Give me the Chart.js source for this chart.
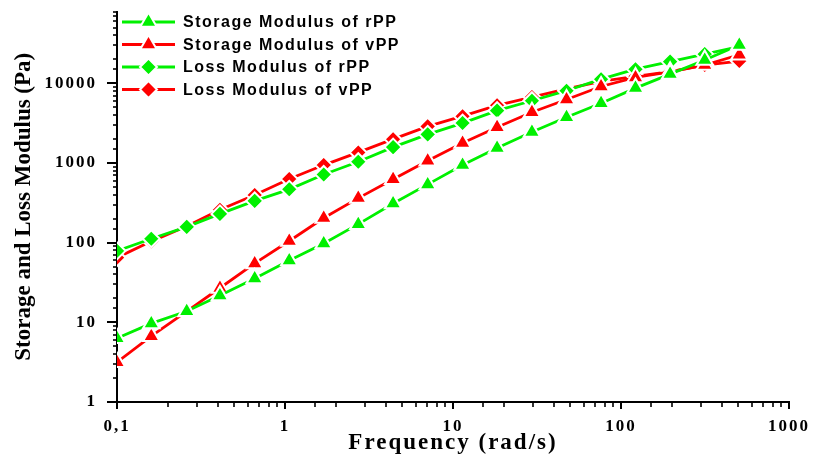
<!DOCTYPE html>
<html>
<head>
<meta charset="utf-8">
<script src="https://cdn.jsdelivr.net/npm/chart.js@4/dist/chart.umd.min.js"></script>
<style>
html,body{margin:0;padding:0;background:#fff;}
#wrap{width:813px;height:456px;position:relative;}
</style>
</head>
<body>
<div id="wrap"><canvas id="c" width="813" height="456"></canvas></div>
<script>
// ---- data ----
const frequency = [0.1, 0.16, 0.26, 0.41, 0.66, 1.06, 1.7, 2.73, 4.4, 7.07, 11.4, 18.3, 29.5, 47.4, 76.1, 122, 196, 315, 506];
const storageRPP = [6.3, 9.7, 13.8, 21.8, 35.5, 59.6, 98, 171, 310, 540, 944, 1550, 2460, 3760, 5650, 8730, 13100, 19700, 30300];
const storageVPP = [3.16, 6.7, 13.7, 27, 55, 105, 204, 363, 628, 1070, 1790, 2820, 4340, 6280, 9150, 11900, 14000, 17000, 22900];
const lossRPP = [79, 112, 158, 230, 335, 468, 720, 1040, 1585, 2290, 3180, 4550, 6060, 8100, 11300, 15100, 18800, 23300, 28900];
const lossVPP = [65, 104, 161, 259, 398, 630, 944, 1360, 1995, 2890, 3880, 5310, 6740, 8540, 10600, 12280, 14100, 17000, 19100];
const seriesLabels = ['Storage Modulus of rPP', 'Storage Modulus of vPP', 'Loss Modulus of rPP', 'Loss Modulus of vPP'];
const xTickValues = [0.1, 1, 10, 100, 1000];
const xTickLabels = ['0,1', '1', '10', '100', '1000'];
const yTickValues = [1, 10, 100, 1000, 10000];
const yTickLabels = ['1', '10', '100', '1000', '10000'];
const xTitle = 'Frequency (rad/s)';
const yTitle = 'Storage and Loss Modulus (Pa)';

const GREEN = '#00f000';
const RED = '#ff0000';

function pts(ys){ return frequency.map((f,i)=>({x:f, y:ys[i]})); }
function isMajor(v){ const l = Math.log10(v); return Math.abs(l - Math.round(l)) < 1e-6; }
function labelFor(v, vals, labels){
  for (let i=0;i<vals.length;i++){ if (Math.abs(v/vals[i]-1) < 1e-6) return labels[i]; }
  return '';
}

const spacing = {
  id: 'spacing',
  beforeDraw(chart){ chart.ctx.letterSpacing = '2px'; },
  afterUpdate(chart){
    const s = chart.scales.y;
    if (s && !s.__wrapped){
      const orig = s.drawTitle;
      s.drawTitle = function(){
        const c = this.ctx; const prev = c.letterSpacing;
        c.letterSpacing = '0px';
        orig.apply(this, arguments);
        c.letterSpacing = prev;
      };
      s.__wrapped = true;
    }
  }
};

const tickMarks = {
  id: 'tickMarks',
  afterDraw(chart){
    const ctx = chart.ctx; const xs = chart.scales.x, ys = chart.scales.y;
    ctx.save();
    ctx.strokeStyle = '#000';
    xs.ticks.forEach(t => {
      const major = isMajor(t.value);
      const px = Math.round(xs.getPixelForValue(t.value));
      ctx.lineWidth = major ? 2 : 1.6;
      ctx.beginPath(); ctx.moveTo(px, xs.top); ctx.lineTo(px, xs.top + (major ? 7 : 5)); ctx.stroke();
    });
    ys.ticks.forEach(t => {
      const major = isMajor(t.value);
      const py = Math.round(ys.getPixelForValue(t.value));
      ctx.lineWidth = major ? 2 : 1.6;
      ctx.beginPath(); ctx.moveTo(ys.right, py); ctx.lineTo(ys.right - (major ? 10 : 4), py); ctx.stroke();
    });
    ctx.restore();
  }
};

const insideLegend = {
  id: 'insideLegend',
  afterDraw(chart){
    const ctx = chart.ctx;
    const left = 122, lineLen = 53, textX = 183, top = 22, gap = 22.5;
    chart.data.datasets.forEach((ds, i) => {
      const cy = top + i*gap;
      ctx.save();
      ctx.strokeStyle = ds.borderColor; ctx.lineWidth = ds.borderWidth;
      ctx.beginPath(); ctx.moveTo(left, cy); ctx.lineTo(left + lineLen, cy); ctx.stroke();
      ctx.fillStyle = ds.backgroundColor; ctx.strokeStyle = '#fff';
      ctx.lineWidth = ds.pointBorderWidth;
      Chart.helpers.drawPoint(ctx, {pointStyle: ds.pointStyle, radius: ds.pointRadius, borderWidth: ds.pointBorderWidth, rotation: 0}, left + lineLen/2, cy);
      ctx.letterSpacing = '1.5px';
      ctx.fillStyle = '#000';
      ctx.font = 'bold 16px "Liberation Sans", Arial, sans-serif';
      ctx.textBaseline = 'middle'; ctx.textAlign = 'left';
      ctx.fillText(ds.label, textX, cy + 1);
      ctx.restore();
    });
  }
};

function ds(label, data, color, style, r){
  return {
    label, data: pts(data), borderColor: color, backgroundColor: color,
    borderWidth: 2.8, pointStyle: style, pointRadius: r, pointHoverRadius: r,
    pointBackgroundColor: color, pointBorderColor: '#fff', pointBorderWidth: 2,
    showLine: true, tension: 0, fill: false
  };
}

new Chart(document.getElementById('c'), {
  type: 'scatter',
  data: {
    datasets: [
      ds(seriesLabels[0], storageRPP, GREEN, 'triangle', 9.5),
      ds(seriesLabels[1], storageVPP, RED, 'triangle', 9.5),
      ds(seriesLabels[2], lossRPP, GREEN, 'rectRot', 8.5),
      ds(seriesLabels[3], lossVPP, RED, 'rectRot', 8.5)
    ]
  },
  options: {
    responsive: false,
    animation: false,
    devicePixelRatio: 1,
    layout: { padding: { left: 0, top: 10, right: 24, bottom: 0 } },
    plugins: { legend: { display: false }, tooltip: { enabled: false } },
    scales: {
      x: {
        type: 'logarithmic', min: 0.1, max: 1000,
        afterFit: s => { s.height = 54; s.paddingLeft = 0; s.paddingRight = 0; },
        grid: { display: false, drawTicks: false },
        border: { display: true, color: '#000', width: 2 },
        ticks: {
          autoSkip: false, maxRotation: 0, padding: 14, color: '#000',
          font: { family: '"Liberation Serif", "Times New Roman", serif', size: 17, weight: 'bold' },
          callback: v => labelFor(v, xTickValues, xTickLabels)
        },
        title: {
          display: true, text: xTitle, color: '#000',
          font: { family: '"Liberation Serif", "Times New Roman", serif', size: 23, weight: 'bold', lineHeight: 1 },
          padding: { top: 0, bottom: 1 }
        }
      },
      y: {
        type: 'logarithmic', min: 1, max: 80000,
        afterFit: s => { s.width = 117; s.paddingTop = 0; s.paddingBottom = 0; },
        grid: { display: false, drawTicks: false },
        border: { display: true, color: '#000', width: 2 },
        ticks: {
          autoSkip: false, padding: 20, color: '#000',
          font: { family: '"Liberation Serif", "Times New Roman", serif', size: 17, weight: 'bold' },
          callback: v => labelFor(v, yTickValues, yTickLabels)
        },
        title: {
          display: true, text: yTitle, color: '#000',
          font: { family: '"Liberation Serif", "Times New Roman", serif', size: 23, weight: 'bold', lineHeight: 1 },
          padding: { top: 13, bottom: 0 }
        }
      }
    }
  },
  plugins: [spacing, tickMarks, insideLegend]
});
</script>
</body>
</html>
